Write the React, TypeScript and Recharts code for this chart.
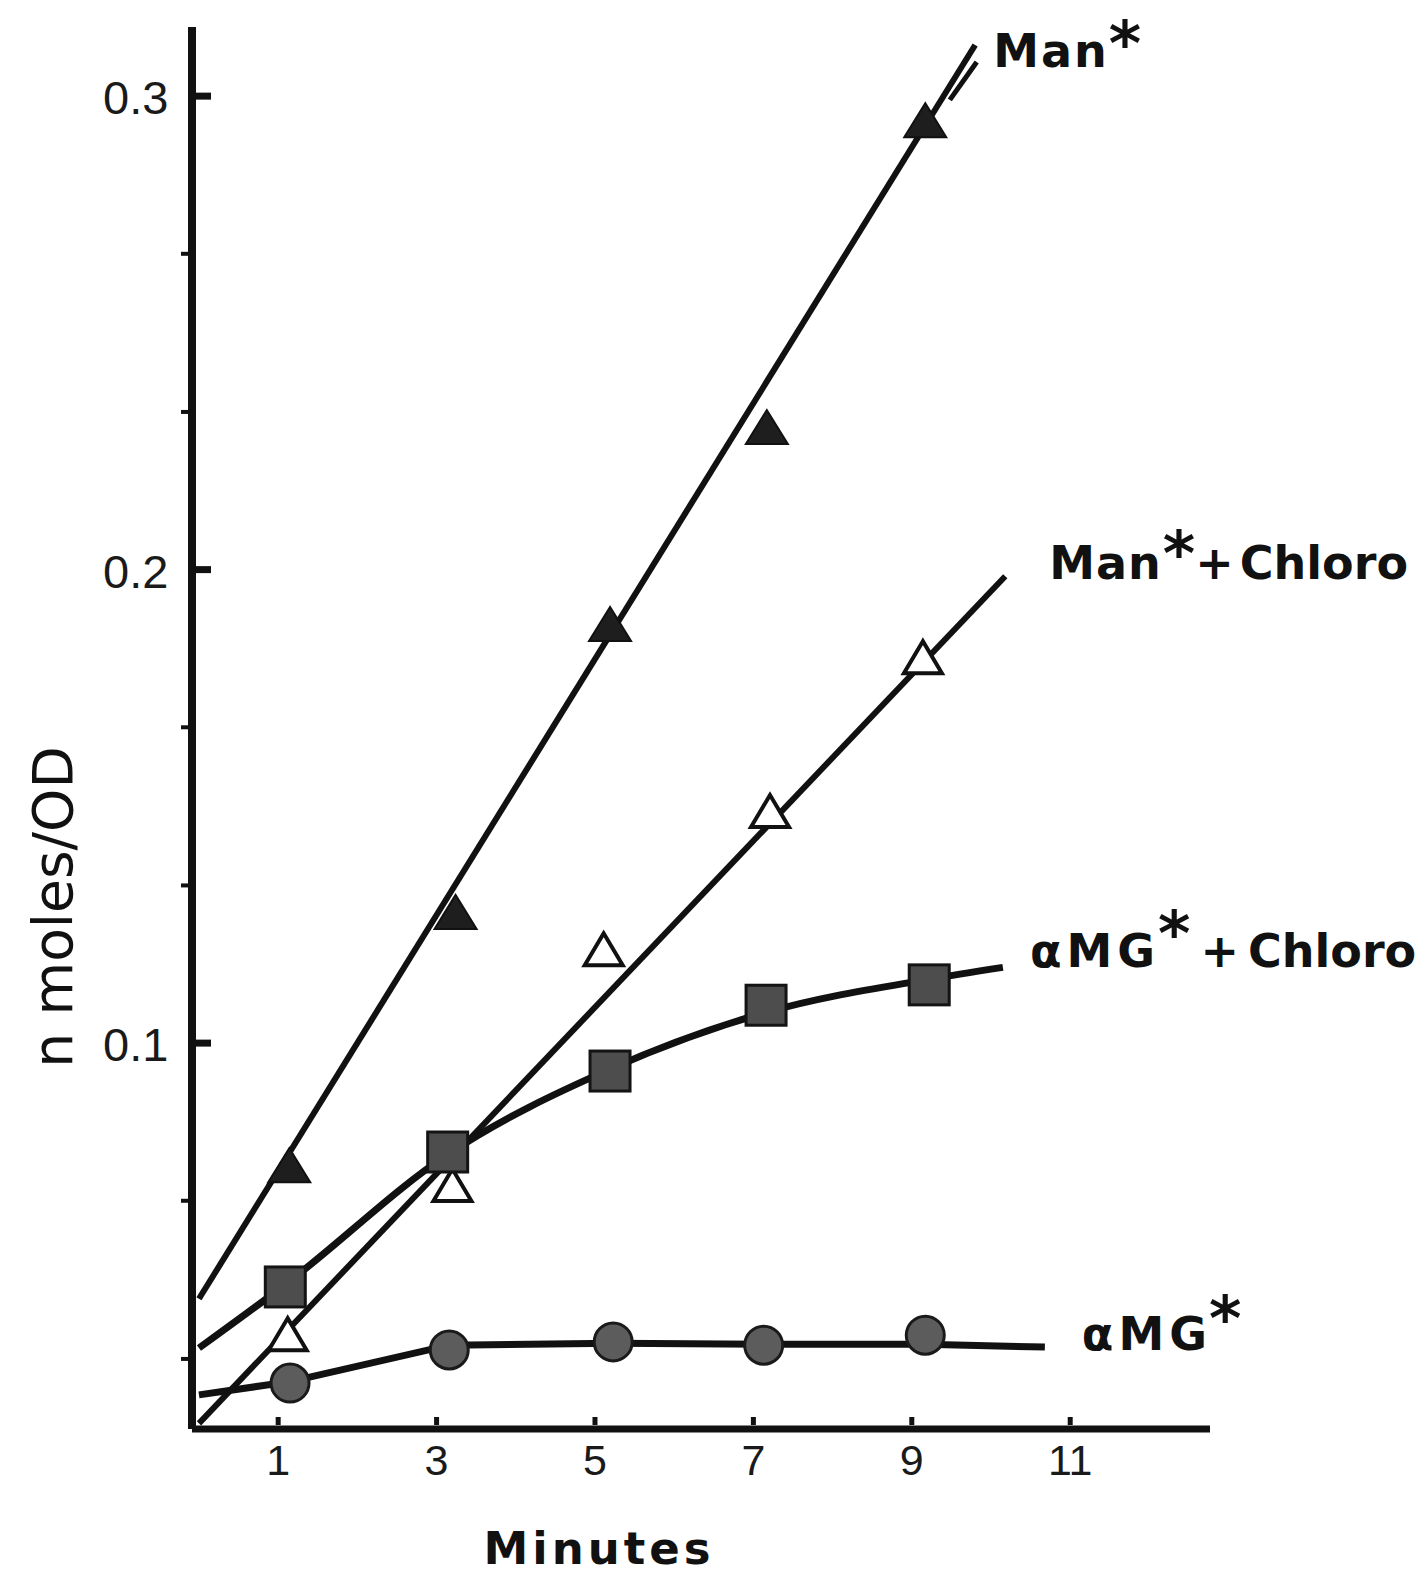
import { ComposedChart, Line, Scatter, XAxis, YAxis } from 'recharts';

const xTicks = [1, 3, 5, 7, 9, 11];
const yTicks = [0.0333, 0.0667, 0.1, 0.1333, 0.1667, 0.2, 0.2333, 0.2667, 0.3];
const yTickLabels = ['', '', '0.1', '', '', '0.2', '', '', '0.3'];

// Man* (filled triangles)
const manMinutes = [1.14, 3.24, 5.19, 7.17, 9.17];
const manValues = [0.074, 0.1275, 0.1883, 0.2299, 0.2947];
const manFitMinutes = [0, 9.8];
const manFitValues = [0.046, 0.3108];
const manForkMinutes = [9.48, 9.82];
const manForkValues = [0.2992, 0.3072];

// Man* + Chloro (open triangles)
const manChloroMinutes = [1.12, 3.2, 5.11, 7.21, 9.14];
const manChloroValues = [0.0383, 0.0698, 0.1196, 0.1488, 0.1813];
const manChloroFitMinutes = [0, 10.18];
const manChloroFitValues = [0.0197, 0.1986];

// aMG* + Chloro (squares)
const amgChloroMinutes = [1.09, 3.14, 5.19, 7.16, 9.22];
const amgChloroValues = [0.0485, 0.077, 0.0941, 0.108, 0.1123];
const amgChloroCurveMinutes = [0, 1.09, 3.14, 5.19, 7.16, 9.22, 10.15];
const amgChloroCurveValues = [0.0356, 0.049, 0.0765, 0.0945, 0.1065, 0.1135, 0.116];

// aMG* (circles)
const amgMinutes = [1.15, 3.16, 5.23, 7.13, 9.17];
const amgValues = [0.0282, 0.0352, 0.0369, 0.0362, 0.0383];
const amgCurveMinutes = [0, 1.15, 3.16, 5.23, 7.13, 9.17, 10.68];
const amgCurveValues = [0.0257, 0.0285, 0.0362, 0.0366, 0.0364, 0.0364, 0.0358];

const pts = (m: number[], v: number[]) => m.map((x, i) => ({ m: x, v: v[i] }));

const INK = '#111';

function YTick(props: any) {
  const { x, y, payload } = props;
  const label = yTickLabels[yTicks.indexOf(payload.value)];
  if (!label) {
    return <line x1={x - 11} x2={x - 3} y1={y} y2={y} stroke={INK} strokeWidth={4} />;
  }
  return (
    <g>
      <line x1={x} x2={x + 19} y1={y} y2={y} stroke={INK} strokeWidth={7} />
      <text x={x - 89} y={y + 18} fontFamily="Liberation Sans, Arial" fontSize={47} fill="#1a1a1a">
        {label}
      </text>
    </g>
  );
}

function XTick(props: any) {
  const { x, y, payload } = props;
  return (
    <g>
      <line x1={x} x2={x} y1={y - 4} y2={y - 12} stroke={INK} strokeWidth={5} />
      <text x={x} y={y + 46} textAnchor="middle" fontFamily="Liberation Sans, Arial" fontSize={43} fill="#1a1a1a">
        {payload.value}
      </text>
    </g>
  );
}

const FilledTriangle = (p: any) => (
  <polygon
    points={`${p.cx},${p.cy - 18} ${p.cx - 21},${p.cy + 16} ${p.cx + 21},${p.cy + 16}`}
    fill="#1e1e1e"
    stroke={INK}
    strokeWidth={2}
  />
);
const OpenTriangle = (p: any) => (
  <polygon
    points={`${p.cx},${p.cy - 17} ${p.cx - 19},${p.cy + 15} ${p.cx + 19},${p.cy + 15}`}
    fill="#fff"
    stroke={INK}
    strokeWidth={4}
  />
);
const Square = (p: any) => (
  <rect x={p.cx - 20} y={p.cy - 20} width={40} height={40} fill="#4d4d4d" stroke="#141414" strokeWidth={3} />
);
const Dot = (p: any) => <circle cx={p.cx} cy={p.cy} r={19} fill="#5c5c5c" stroke="#1a1a1a" strokeWidth={3} />;

function endLabel(
  last: number,
  name: string,
  suffix: string,
  dx: number,
  dy: number,
  spacing: number,
  starDx: number,
  starDy: number,
  plusDx: number,
  chloroDx: number
) {
  return (p: any) => {
    if (p.index !== last) return null;
    const x = p.x ?? p.viewBox?.x;
    const y = p.y ?? p.viewBox?.y;
    return (
      <text x={x + dx} y={y + dy} fontFamily="DejaVu Sans" fontWeight="bold" fontSize={46} fill={INK}>
        <tspan letterSpacing={spacing}>{name}</tspan>
        <tspan dx={starDx} dy={starDy} fontSize={62}>*</tspan>
        {suffix && (
          <>
            <tspan dx={plusDx} dy={-starDy}>+</tspan>
            <tspan dx={chloroDx}>{suffix}</tspan>
          </>
        )}
      </text>
    );
  };
}

export default function App() {
  return (
    <div style={{ position: 'absolute', left: 0, top: 0, width: 1421, height: 1576, background: '#fff' }}>
      <ComposedChart width={1421} height={1576} margin={{ top: 27, right: 211, bottom: 0, left: 0 }}>
        <XAxis
          type="number"
          dataKey="m"
          domain={[-0.088, 12.765]}
          allowDataOverflow
          ticks={xTicks}
          tick={<XTick />}
          tickLine={false}
          tickSize={0}
          tickMargin={0}
          height={147}
          axisLine={{ stroke: INK, strokeWidth: 7 }}
          label={() => (
            <text x={599} y={1564} textAnchor="middle" fontFamily="DejaVu Sans" fontWeight="bold" fontSize={45} letterSpacing={4} fill={INK}>
              Minutes
            </text>
          )}
        />
        <YAxis
          type="number"
          dataKey="v"
          domain={[0.0185, 0.3146]}
          allowDataOverflow
          ticks={yTicks}
          tick={<YTick />}
          tickLine={false}
          tickSize={0}
          tickMargin={0}
          width={192}
          axisLine={{ stroke: INK, strokeWidth: 8 }}
          label={() => (
            <text x={72} y={907} transform="rotate(-90, 72, 907)" textAnchor="middle" fontFamily="DejaVu Sans" fontSize={55} fill={INK}>
              n moles/OD
            </text>
          )}
        />

        <Line
          data={pts(manFitMinutes, manFitValues)}
          dataKey="v"
          type="linear"
          stroke={INK}
          strokeWidth={6}
          dot={false}
          isAnimationActive={false}
          label={endLabel(1, 'Man', '', 18, 22, 2, 0, -2, 0, 0)}
        />
        <Line
          data={pts(manForkMinutes, manForkValues)}
          dataKey="v"
          type="linear"
          stroke={INK}
          strokeWidth={5}
          dot={false}
          isAnimationActive={false}
        />
        <Line
          data={pts(manChloroFitMinutes, manChloroFitValues)}
          dataKey="v"
          type="linear"
          stroke={INK}
          strokeWidth={6}
          dot={false}
          isAnimationActive={false}
          label={endLabel(1, 'Man', 'Chloro', 44, 3, 1, 1, -4, 0, 6)}
        />
        <Line
          data={pts(amgChloroCurveMinutes, amgChloroCurveValues)}
          dataKey="v"
          type="monotone"
          stroke={INK}
          strokeWidth={7}
          dot={false}
          isAnimationActive={false}
          label={endLabel(6, 'αMG', 'Chloro', 27, 0, 5, -2, -12, 10, 9)}
        />
        <Line
          data={pts(amgCurveMinutes, amgCurveValues)}
          dataKey="v"
          type="linear"
          stroke={INK}
          strokeWidth={7}
          dot={false}
          isAnimationActive={false}
          label={endLabel(6, 'αMG', '', 37, 3, 5, -3, -10, 0, 0)}
        />

        <Scatter data={pts(manMinutes, manValues)} dataKey="v" shape={FilledTriangle} isAnimationActive={false} />
        <Scatter data={pts(manChloroMinutes, manChloroValues)} dataKey="v" shape={OpenTriangle} isAnimationActive={false} />
        <Scatter data={pts(amgChloroMinutes, amgChloroValues)} dataKey="v" shape={Square} isAnimationActive={false} />
        <Scatter data={pts(amgMinutes, amgValues)} dataKey="v" shape={Dot} isAnimationActive={false} />
      </ComposedChart>
    </div>
  );
}
